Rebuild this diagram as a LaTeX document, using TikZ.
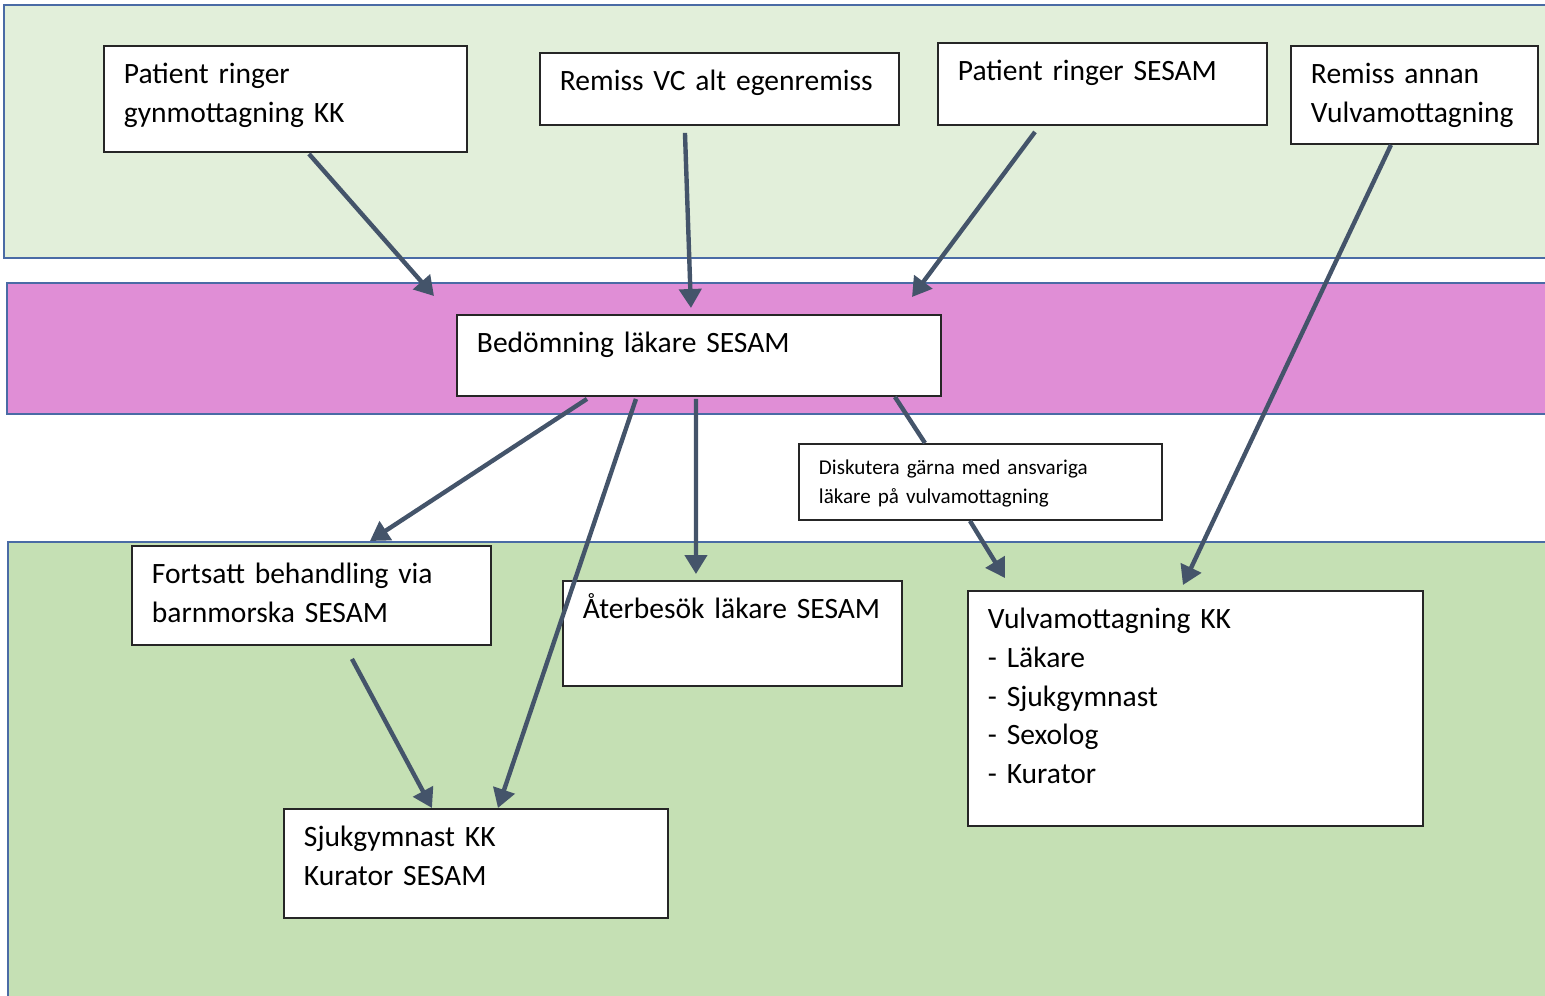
\documentclass[tikz,border=0pt]{standalone}
\usepackage{fontspec}
\setmainfont{Carlito}
\usetikzlibrary{calc,arrows.meta}

\definecolor{bandtop}{HTML}{E2EFDA}
\definecolor{bandmid}{HTML}{E08ED6}
\definecolor{bandbot}{HTML}{C5E0B4}
\definecolor{bandline}{HTML}{4A6BA5}
\definecolor{arrowc}{HTML}{44546A}

\protected\def\boxfont{\fontsize{16.8}{22}\selectfont\spaceskip=0.19em\relax}
\protected\def\notefont{\fontsize{12}{16}\selectfont\spaceskip=0.19em\relax}

\begin{document}
\begin{tikzpicture}[x=0.02cm, y=-0.02cm,
	band/.style={draw=bandline, line width=1.2pt},
	box/.style={draw=black!85, fill=white, line width=1.1pt, anchor=north west,
		align=left, inner xsep=0.4cm, inner ysep=0pt, text height=0.76cm,
		font=\boxfont},
	flow/.style={draw=arrowc, line width=2.5pt, -{Triangle[length=0.38cm,width=0.44cm]}},
	link/.style={draw=arrowc, line width=2.5pt}]

	\useasboundingbox (0,0) rectangle (1545,995);

	% bands
	\draw[band, fill=bandtop] (4,5) rectangle (1570,258);
	\draw[band, fill=bandmid] (7,283) rectangle (1570,414);
	\draw[band, fill=bandbot] (8,542) rectangle (1570,1010);

	% boxes, top row
	\node[box, text width=6.46cm, text depth=1.36cm] (patkk) at (103,45)
		{Patient ringer\\gynmottagning KK};
	\node[box, text width=6.38cm, text depth=0.68cm] (remissvc) at (539,52)
		{Remiss VC alt egenremiss};
	\node[box, text width=5.78cm, text depth=0.88cm] (patsesam) at (937,42)
		{Patient ringer SESAM};
	\node[box, text width=4.14cm, text depth=1.2cm] (remissvulva) at (1290,45)
		{Remiss annan\\Vulvamottagning};

	% boxes, middle
	\node[box, text width=8.88cm, text depth=0.86cm] (bedomning) at (456,314)
		{Bedömning läkare SESAM};
	\node[box, text width=6.46cm, text height=0.62cm, text depth=0.9cm,
		font=\notefont] (diskutera) at (798,443)
		{Diskutera gärna med ansvariga\\läkare på vulvamottagning};

	% boxes, bottom
	\node[box, text width=6.38cm, text depth=1.22cm] (fortsatt) at (131,545)
		{Fortsatt behandling via\\barnmorska SESAM};
	\node[box, text width=5.98cm, text depth=1.34cm] (aterbesok) at (562,580)
		{Återbesök läkare SESAM};
	\node[box, text width=8.3cm, text depth=3.94cm] (vulva) at (967,590)
		{Vulvamottagning KK\\- Läkare\\- Sjukgymnast\\- Sexolog\\- Kurator};
	\node[box, text width=6.88cm, text depth=1.42cm] (sjukgym) at (283,808)
		{Sjukgymnast KK\\Kurator SESAM};

	\coordinate (inleft) at (434,296);
	\coordinate (inright) at (912,297);

	% arrows
	\draw[flow] ([xshift=4.12cm,yshift=-0.02cm]patkk.south west) -- (inleft);
	\draw[flow] ([xshift=2.92cm,yshift=-0.14cm]remissvc.south west)
		-- ([xshift=4.7cm,yshift=0.12cm]bedomning.north west);
	\draw[flow] ([xshift=1.96cm,yshift=-0.12cm]patsesam.south west) -- (inright);
	\draw[flow] ([xshift=2.02cm]remissvulva.south west)
		-- ([xshift=4.32cm,yshift=0.1cm]vulva.north west);

	\draw[flow] ([xshift=2.62cm,yshift=-0.04cm]bedomning.south west)
		-- ([xshift=4.78cm,yshift=0.08cm]fortsatt.north west);
	\draw[flow] ([xshift=3.6cm,yshift=-0.04cm]bedomning.south west)
		-- ([xshift=4.3cm]sjukgym.north west);
	\draw[flow] ([xshift=4.8cm,yshift=-0.04cm]bedomning.south west)
		-- ([xshift=2.68cm,yshift=0.12cm]aterbesok.north west);
	\draw[link] ([xshift=8.78cm]bedomning.south west)
		-- ([xshift=2.54cm]diskutera.north west);
	\draw[flow] ([xshift=3.44cm]diskutera.south west)
		-- ([xshift=0.76cm,yshift=0.24cm]vulva.north west);
	\draw[flow] ([xshift=4.42cm,yshift=-0.26cm]fortsatt.south west)
		-- ([xshift=2.98cm]sjukgym.north west);

\end{tikzpicture}
\end{document}
